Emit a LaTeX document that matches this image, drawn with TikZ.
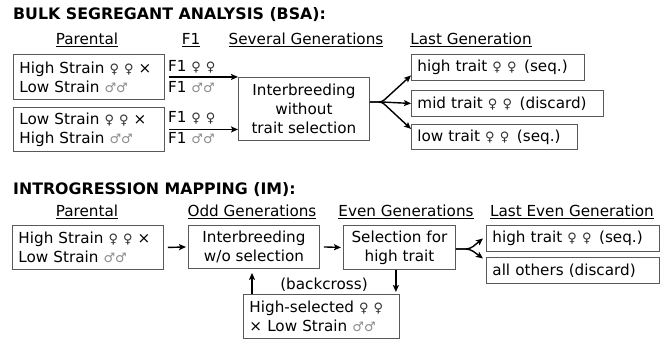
\documentclass[tikz,border=0pt]{standalone}
\usepackage{fontspec}
\setmainfont{DejaVu Sans}
\usetikzlibrary{arrows.meta}

\newcommand{\fem}{{\fontsize{13}{11}\selectfont\color{black!80}♀}}
\newcommand{\mal}{{\fontsize{13}{11}\selectfont\color{black!45}♂}}

\tikzset{
  ttl/.style={anchor=west, inner sep=1pt, font=\fontsize{15.8}{18}\selectfont\bfseries},
  hdr/.style={inner sep=1pt},
  lbl/.style={anchor=west, inner sep=1pt},
  box/.style={draw=black!65, line width=0.9pt, anchor=north west, inner xsep=6pt, inner ysep=2pt},
  lbox/.style={box, align=left},
  cbox/.style={box, align=center},
  conn/.style={line width=1.4pt},
  arr/.style={conn, -{Stealth[length=7pt,width=6pt,inset=1.5pt]}}
}

\begin{document}
\begin{tikzpicture}[x=1pt,y=-1pt,font=\fontsize{15.2}{19}\selectfont]
\useasboundingbox (0,0) rectangle (665,340);

% bulk segregant analysis
\node[ttl] (tBSA) at (12,15) {BULK SEGREGANT ANALYSIS (BSA):};
\node[hdr] (hPar1) at (87,40) {\underline{Parental}};
\node[hdr] (hF1) at (191,40) {\underline{F1}};
\node[hdr] (hSev) at (306,40) {\underline{Several Generations}};
\node[hdr] (hLast) at (471,40) {\underline{Last Generation}};

\node[lbox, text width=139pt, minimum height=45pt] (cross1) at (13,54) {High Strain \fem\ \fem\ ×\\Low Strain \mal\mal};
\node[lbox, text width=139pt, minimum height=44pt] (cross2) at (13,107) {Low Strain \fem\ \fem\ ×\\High Strain \mal\mal};

\node[lbl] (f1fa) at (167,67) {F1 \fem\ \fem};
\node[lbl] (f1ma) at (167,87) {F1 \mal\mal};
\node[lbl] (f1fb) at (167,118) {F1 \fem\ \fem};
\node[lbl] (f1mb) at (167,138) {F1 \mal\mal};

\node[cbox, minimum width=131pt, minimum height=63pt] (breed) at (238,77) {Interbreeding\\without\\trait selection};

\node[lbox, text width=161pt, minimum height=26pt] (hiT) at (411,54) {high trait \fem\ \fem\ \,(seq.)};
\node[lbox, text width=180pt, minimum height=26pt] (midT) at (411,90) {mid trait \fem\ \fem\ \,(discard)};
\node[lbox, text width=154pt, minimum height=25pt] (loT) at (411,124) {low trait \fem\ \fem\ \,(seq.)};

\draw[arr] ([xshift=4pt]cross1.east) -- (cross1.east -| breed.west);
\draw[arr] ([xshift=4pt]cross2.east) -- (cross2.east -| breed.west);

\coordinate (fork1) at (382,102);
\draw[arr, rounded corners=3pt] (breed.east |- fork1) -- (fork1) -- ([yshift=-8pt]hiT.west);
\draw[arr] (fork1) -- (midT.west);
\draw[arr, rounded corners=3pt] (breed.east |- fork1) -- (fork1) -- ([yshift=8pt]loT.west);

% introgression mapping
\node[ttl] (tIM) at (12,190) {INTROGRESSION MAPPING (IM):};
\node[hdr] (hPar2) at (87,212) {\underline{Parental}};
\node[hdr] (hOdd) at (252,212) {\underline{Odd Generations}};
\node[hdr] (hEven) at (406,212) {\underline{Even Generations}};
\node[hdr] (hLastE) at (572,212) {\underline{Last Even Generation}};

\node[lbox, text width=139pt, minimum height=44pt] (cross3) at (12,225) {High Strain \fem\ \fem\ ×\\Low Strain \mal\mal};
\node[cbox, minimum width=131pt, minimum height=43pt] (odd) at (188,225) {Interbreeding\\w/o selection};
\node[cbox, minimum width=112pt, minimum height=44pt] (even) at (343,225) {Selection for\\high trait};
\node[lbox, text width=161pt, minimum height=26pt] (hiE) at (486,225) {high trait \fem\ \fem\ \,(seq.)};
\node[lbox, text width=161pt, minimum height=26pt] (rest) at (486,257) {all others (discard)};
\node[lbox, text width=144pt, minimum height=44pt] (back) at (243,294) {High-selected \fem\ \fem\\× Low Strain \mal\mal};
\node[hdr] (bcx) at (324,285) {(backcross)};

\draw[arr] ([xshift=4pt]cross3.east) -- ([xshift=-2pt]odd.west);
\draw[arr] ([xshift=4pt]odd.east) -- ([xshift=-2pt]even.west);

\coordinate (fork2) at (470,249);
\draw[arr, rounded corners=4pt] (even.east |- fork2) -- (fork2) -- ([xshift=-3pt]hiE.west);
\draw[arr, rounded corners=4pt] (even.east |- fork2) -- (fork2) -- ([xshift=-3pt,yshift=12pt]rest.west);

\coordinate (upx) at ([xshift=9pt]back.north west);
\coordinate (dnx) at ([xshift=-4pt]back.north east);
\draw[arr] (upx) -- ([yshift=-4pt]upx |- odd.south);
\draw[arr] (even.south -| dnx) -- ([yshift=2pt]dnx);
\end{tikzpicture}
\end{document}
